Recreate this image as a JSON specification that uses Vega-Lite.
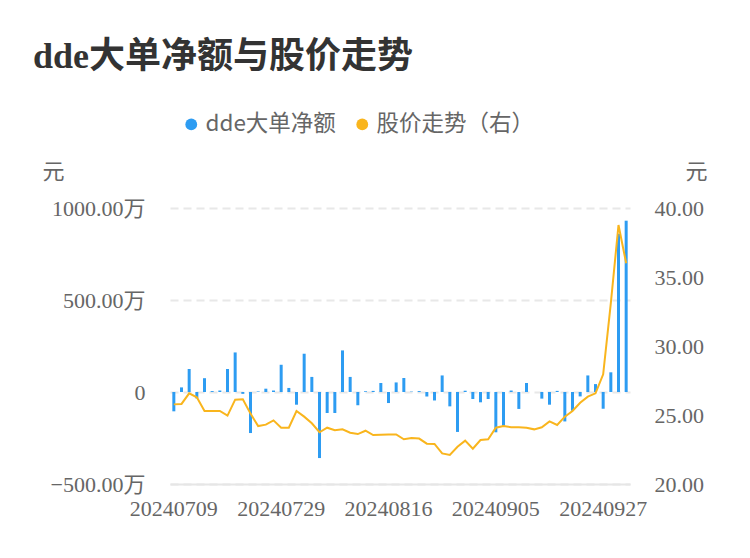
{
  "$schema": "https://vega.github.io/schema/vega-lite/v6.json",
  "description": "dde net large orders vs stock price, dual axis",
  "autosize": "none",
  "width": 460,
  "height": 276,
  "padding": {"left": 170, "top": 208, "right": 120, "bottom": 74},
  "background": "white",
  "config": {
    "font": "Liberation Serif, Noto Sans CJK SC",
    "view": {"stroke": null},
    "axis": {"labelColor": "#666", "labelFontSize": 22, "titleColor": "#666", "titleFontSize": 22, "titleFontWeight": "normal", "ticks": false}
  },
  "title": {
    "text": "dde大单净额与股价走势",
    "anchor": "start",
    "frame": "group",
    "dx": -137,
    "offset": 37,
    "fontSize": 36,
    "fontWeight": "bold",
    "color": "#333",
    "font": "Liberation Serif, Noto Sans CJK SC"
  },
  "data": {
    "values": [
      {"date": "20240709", "dde": -105, "price": 25.77},
      {"date": "20240710", "dde": 25, "price": 25.80},
      {"date": "20240711", "dde": 125, "price": 26.57},
      {"date": "20240712", "dde": -35, "price": 26.28},
      {"date": "20240715", "dde": 75, "price": 25.29},
      {"date": "20240716", "dde": 5, "price": 25.29},
      {"date": "20240717", "dde": 8, "price": 25.29},
      {"date": "20240718", "dde": 125, "price": 24.95},
      {"date": "20240719", "dde": 215, "price": 26.11},
      {"date": "20240722", "dde": -10, "price": 26.14},
      {"date": "20240723", "dde": -223, "price": 25.10},
      {"date": "20240724", "dde": 3, "price": 24.20},
      {"date": "20240725", "dde": 18, "price": 24.30},
      {"date": "20240726", "dde": 8, "price": 24.61},
      {"date": "20240729", "dde": 148, "price": 24.08},
      {"date": "20240730", "dde": 22, "price": 24.08},
      {"date": "20240731", "dde": -69, "price": 25.29},
      {"date": "20240801", "dde": 208, "price": 24.88},
      {"date": "20240802", "dde": 82, "price": 24.40},
      {"date": "20240805", "dde": -359, "price": 23.75},
      {"date": "20240806", "dde": -114, "price": 24.08},
      {"date": "20240807", "dde": -114, "price": 23.89},
      {"date": "20240808", "dde": 226, "price": 23.96},
      {"date": "20240809", "dde": 82, "price": 23.72},
      {"date": "20240812", "dde": -72, "price": 23.62},
      {"date": "20240813", "dde": 4, "price": 23.86},
      {"date": "20240814", "dde": 6, "price": 23.55},
      {"date": "20240815", "dde": 49, "price": 23.57},
      {"date": "20240816", "dde": -60, "price": 23.59},
      {"date": "20240819", "dde": 52, "price": 23.59},
      {"date": "20240820", "dde": 76, "price": 23.24},
      {"date": "20240821", "dde": 2, "price": 23.33},
      {"date": "20240822", "dde": 5, "price": 23.29},
      {"date": "20240823", "dde": -24, "price": 22.92},
      {"date": "20240826", "dde": -46, "price": 22.90},
      {"date": "20240827", "dde": 90, "price": 22.22},
      {"date": "20240828", "dde": -78, "price": 22.10},
      {"date": "20240829", "dde": -217, "price": 22.70},
      {"date": "20240830", "dde": 7, "price": 23.14},
      {"date": "20240902", "dde": -38, "price": 22.56},
      {"date": "20240903", "dde": -56, "price": 23.19},
      {"date": "20240904", "dde": -38, "price": 23.24},
      {"date": "20240905", "dde": -219, "price": 24.08},
      {"date": "20240906", "dde": -183, "price": 24.20},
      {"date": "20240909", "dde": 8, "price": 24.11},
      {"date": "20240910", "dde": -92, "price": 24.11},
      {"date": "20240911", "dde": 49, "price": 24.08},
      {"date": "20240912", "dde": 0, "price": 23.96},
      {"date": "20240913", "dde": -36, "price": 24.11},
      {"date": "20240918", "dde": -69, "price": 24.54},
      {"date": "20240919", "dde": 6, "price": 24.28},
      {"date": "20240920", "dde": -160, "price": 24.88},
      {"date": "20240923", "dde": -102, "price": 25.29},
      {"date": "20240924", "dde": -24, "price": 25.89},
      {"date": "20240925", "dde": 90, "price": 26.33},
      {"date": "20240926", "dde": 43, "price": 26.57},
      {"date": "20240927", "dde": -91, "price": 27.95},
      {"date": "20240930", "dde": 107, "price": 33.10},
      {"date": "20241008", "dde": 860, "price": 38.77},
      {"date": "20241009", "dde": 931, "price": 36.00}
    ]
  },
  "encoding": {
    "x": {
      "field": "date",
      "type": "ordinal",
      "sort": null,
      "scale": {"paddingInner": 0, "paddingOuter": 0},
      "axis": {
        "title": null,
        "labelAngle": 0,
        "labelPadding": 14,
        "values": ["20240709", "20240729", "20240816", "20240905", "20240927"],
        "domainColor": "#e6e6e6",
        "domainWidth": 2
      }
    }
  },
  "layer": [
    {
      "mark": {"type": "bar", "width": 3},
      "encoding": {
        "y": {
          "field": "dde",
          "type": "quantitative",
          "scale": {"domain": [-500, 1000], "nice": false, "zero": false},
          "axis": {
            "orient": "left",
            "title": "元",
            "titleAngle": 0,
            "titleAlign": "center",
            "titleBaseline": "alphabetic",
            "titleX": -117,
            "titleY": -30,
            "values": [-500, 0, 500, 1000],
            "labelExpr": "datum.value == 0 ? '0' : format(datum.value, '.2f') + '万'",
            "labelPadding": 25,
            "domain": false,
            "grid": true,
            "gridColor": "#e8e8e8",
            "gridDash": [8, 5],
            "gridWidth": 2
          }
        },
        "color": {
          "datum": "dde大单净额",
          "type": "nominal",
          "scale": {"domain": ["dde大单净额", "股价走势（右）"], "range": ["#2d9cf2", "#f9b51d"]},
          "legend": {
            "title": null,
            "orient": "none",
            "direction": "horizontal",
            "legendX": 10,
            "legendY": -95,
            "symbolType": "circle",
            "symbolSize": 140,
            "symbolStrokeWidth": 0,
            "labelFont": "Noto Sans CJK SC",
            "labelFontSize": 22.5,
            "labelColor": "#666",
            "labelOffset": 3,
            "labelLimit": 300,
            "columnPadding": 15,
            "encode": {"symbols": {"update": {"fill": {"scale": "color", "field": "value"}, "fillOpacity": {"value": 1}}}}
          }
        }
      }
    },
    {
      "mark": {"type": "line", "strokeWidth": 2},
      "encoding": {
        "y": {
          "field": "price",
          "type": "quantitative",
          "scale": {"domain": [20, 40], "nice": false, "zero": false},
          "axis": {
            "orient": "right",
            "title": "元",
            "titleAngle": 0,
            "titleAlign": "center",
            "titleBaseline": "alphabetic",
            "titleX": 66,
            "titleY": -30,
            "values": [20, 25, 30, 35, 40],
            "format": ".2f",
            "labelPadding": 24,
            "domain": false,
            "grid": false
          }
        },
        "color": {"datum": "股价走势（右）", "type": "nominal"}
      }
    }
  ],
  "resolve": {"scale": {"y": "independent"}}
}
